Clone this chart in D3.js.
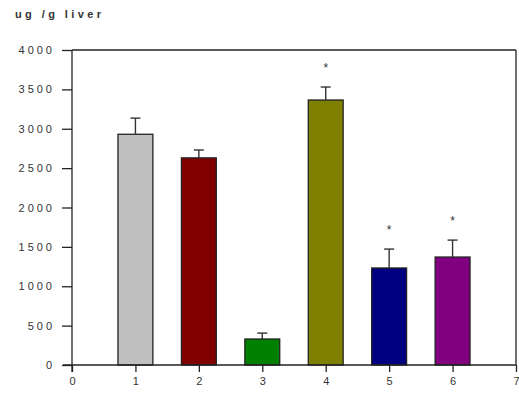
<!DOCTYPE html>
<html>
<head>
<meta charset="utf-8">
<script src="https://cdn.jsdelivr.net/npm/d3@7"></script>
<style>
  body { margin: 0; background: #fff; }
  text { font-family: "Liberation Sans", Arial, sans-serif; fill: #333; }
</style>
</head>
<body>
<div id="chart"></div>
<script>
(function () {
  // data
  var groups = [1, 2, 3, 4, 5, 6];
  var means  = [2930, 2630, 330, 3365, 1232, 1371];
  var errors = [205, 100, 75, 165, 240, 215];
  var starred = [false, false, false, true, true, true];
  var colors = ["#c0c0c0", "#800000", "#008000", "#808000", "#000080", "#800080"];
  var yTicks = [0, 500, 1000, 1500, 2000, 2500, 3000, 3500, 4000];
  var xTicks = [0, 1, 2, 3, 4, 5, 6, 7];

  var margin = {top: 50, left: 72};

  var x = d3.scaleLinear().domain([0, 7]).range([0, 444]);
  var y = d3.scaleLinear().domain([0, 4000]).range([315, 0]);
  var barW = 0.55;

  var svg = d3.select("#chart").append("svg")
      .attr("width", 519)
      .attr("height", 396);

  svg.append("text")
      .attr("x", 15)
      .attr("y", 18)
      .attr("font-size", 11)
      .attr("font-weight", "bold")
      .attr("letter-spacing", 3.4)
      .text("ug /g liver");

  var g = svg.append("g")
      .attr("transform", "translate(" + margin.left + "," + margin.top + ")");

  // frame lines top and right
  g.append("line")
      .attr("x1", x(0)).attr("x2", x(7))
      .attr("y1", y(4000)).attr("y2", y(4000))
      .attr("stroke", "#222").attr("stroke-width", 1.3);
  g.append("line")
      .attr("x1", x(7)).attr("x2", x(7))
      .attr("y1", y(4000)).attr("y2", y(0))
      .attr("stroke", "#222").attr("stroke-width", 1.3);

  // bars
  g.selectAll("rect.bar")
      .data(groups)
      .enter().append("rect")
      .attr("class", "bar")
      .attr("x", function(d) { return x(d - barW / 2); })
      .attr("width", x(barW) - x(0))
      .attr("y", function(d, i) { return y(means[i]); })
      .attr("height", function(d, i) { return y(0) - y(means[i]); })
      .attr("fill", function(d, i) { return colors[i]; })
      .attr("stroke", "#222")
      .attr("stroke-width", 1.3);

  // error bars (upper only)
  g.selectAll("line.err")
      .data(groups)
      .enter().append("line")
      .attr("class", "err")
      .attr("x1", function(d) { return x(d); })
      .attr("x2", function(d) { return x(d); })
      .attr("y1", function(d, i) { return y(means[i]); })
      .attr("y2", function(d, i) { return y(means[i] + errors[i]); })
      .attr("stroke", "#333").attr("stroke-width", 1.4);

  g.selectAll("line.cap")
      .data(groups)
      .enter().append("line")
      .attr("class", "cap")
      .attr("x1", function(d) { return x(d) - 5; })
      .attr("x2", function(d) { return x(d) + 5; })
      .attr("y1", function(d, i) { return y(means[i] + errors[i]); })
      .attr("y2", function(d, i) { return y(means[i] + errors[i]); })
      .attr("stroke", "#333").attr("stroke-width", 1.4);

  // asterisks
  g.selectAll("text.star")
      .data(groups.filter(function(d, i) { return starred[i]; }))
      .enter().append("text")
      .attr("class", "star")
      .attr("x", function(d) { return x(d); })
      .attr("y", function(d) { var i = d - 1; return y(means[i] + errors[i]) - 15; })
      .attr("text-anchor", "middle")
      .attr("font-size", 12)
      .text("*");

  // axes
  var xAxis = g.append("g")
      .attr("transform", "translate(0," + y(0) + ")")
      .call(d3.axisBottom(x).tickValues(xTicks).tickSize(7).tickPadding(5)
        .tickFormat(d3.format("d")));

  var yAxis = g.append("g")
      .call(d3.axisLeft(y).tickValues(yTicks).tickSize(10).tickPadding(7)
        .tickFormat(d3.format("d")));

  [xAxis, yAxis].forEach(function(a) {
    a.select(".domain").attr("stroke", "#222").attr("stroke-width", 1.3);
    a.selectAll(".tick line").attr("stroke", "#222").attr("stroke-width", 1.3);
    a.selectAll(".tick text")
        .attr("font-size", 11)
        .style("font-family", "'Liberation Sans', Arial, sans-serif")
        .attr("fill", "#333");
  });
  yAxis.selectAll(".tick text").attr("letter-spacing", 3);
  xAxis.select(".domain").attr("d", "M-9,0H" + x(7));
  yAxis.select(".domain").attr("d", "M0,0V" + (y(0) + 7));
})();
</script>
</body>
</html>
